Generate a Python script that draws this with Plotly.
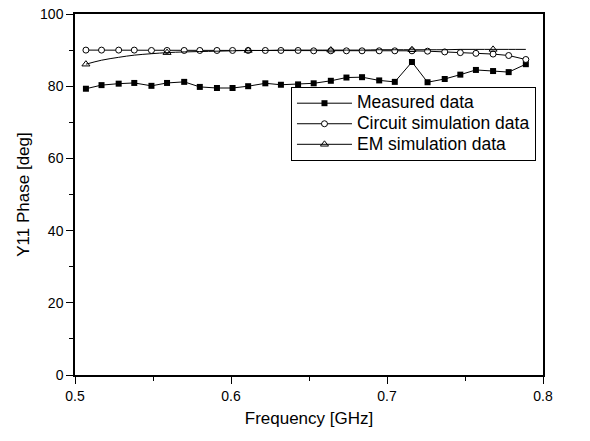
import plotly.graph_objects as go

freq = [0.507, 0.517, 0.528, 0.538, 0.549, 0.559, 0.570, 0.580, 0.591, 0.601,
        0.611, 0.622, 0.632, 0.643, 0.653, 0.664, 0.674, 0.684, 0.695, 0.705,
        0.716, 0.726, 0.737, 0.747, 0.757, 0.768, 0.778, 0.789]

measured = [79.3, 80.3, 80.7, 80.9, 80.1, 80.9, 81.2, 79.8, 79.5, 79.5,
            80.0, 80.8, 80.4, 80.5, 80.8, 81.5, 82.4, 82.5, 81.6, 81.2,
            86.7, 81.1, 82.0, 83.2, 84.5, 84.2, 83.9, 86.1]

circuit = [90.0, 90.0, 90.0, 90.0, 89.9, 89.9, 89.9, 89.9, 89.9, 89.9,
           89.9, 89.9, 89.9, 89.9, 89.8, 89.8, 89.8, 89.8, 89.8, 89.8,
           89.8, 89.7, 89.5, 89.3, 89.1, 88.9, 88.5, 87.4]

em = [86.1, 87.2, 88.0, 88.6, 89.0, 89.3, 89.5, 89.6, 89.7, 89.8,
      89.9, 89.9, 90.0, 90.0, 90.0, 90.0, 90.0, 90.0, 90.1, 90.1,
      90.1, 90.1, 90.1, 90.2, 90.2, 90.2, 90.2, 90.2]
em_marker_idx = [0, 5, 10, 15, 20, 25]

FONT = "Liberation Sans, Arial, sans-serif"


def big(s):
    return '<span style="font-size:17.5px">' + s + '</span>'


fig = go.Figure()

fig.add_trace(go.Scatter(
    x=freq, y=measured, mode="lines+markers", name=big("Measured data"),
    line=dict(color="black", width=1),
    marker=dict(symbol="square", size=6, color="black"),
))
fig.add_trace(go.Scatter(
    x=freq, y=circuit, mode="lines+markers", name=big("Circuit simulation data"),
    line=dict(color="black", width=1),
    marker=dict(symbol="circle", size=6, color="white",
                line=dict(color="black", width=1)),
))
# EM simulation: smooth line, triangles at a subset of points
fig.add_trace(go.Scatter(
    x=freq, y=em, mode="lines", showlegend=False,
    line=dict(color="black", width=1, shape="spline"),
))
fig.add_trace(go.Scatter(
    x=[freq[i] for i in em_marker_idx], y=[em[i] for i in em_marker_idx],
    mode="markers", showlegend=False,
    marker=dict(symbol="triangle-up-open", size=7, color="black",
                line=dict(width=1)),
))
fig.add_trace(go.Scatter(
    x=[None], y=[None], mode="lines+markers", name=big("EM simulation data"),
    line=dict(color="black", width=1),
    marker=dict(symbol="triangle-up-open", size=7, color="black",
                line=dict(width=1)),
))

axis_common = dict(
    showline=True, linecolor="black", linewidth=1.5, mirror=True,
    ticks="outside", ticklen=7, tickwidth=1.2, tickcolor="black",
    showgrid=False, zeroline=False,
    tickfont=dict(family=FONT, size=14, color="black"),
)

fig.update_xaxes(
    range=[0.5, 0.8], tickvals=[0.5, 0.6, 0.7, 0.8],
    ticktext=["0.5", "0.6", "0.7", "0.8"],
    minor=dict(ticks="outside", ticklen=4, tickwidth=1.2, tickcolor="black",
               tickvals=[0.55, 0.65, 0.75]),
    title=dict(text="Frequency [GHz]", font=dict(family=FONT, size=17, color="black"),
               standoff=10),
    **axis_common,
)
fig.update_yaxes(
    range=[0, 100], tickvals=[0, 20, 40, 60, 80, 100],
    minor=dict(ticks="outside", ticklen=4, tickwidth=1.2, tickcolor="black",
               tickvals=[10, 30, 50, 70, 90]),
    title=dict(text="Y11 Phase [deg]", font=dict(family=FONT, size=17, color="black"),
               standoff=6),
    **axis_common,
)

fig.update_layout(
    width=590, height=441,
    margin=dict(l=75, r=47, t=14, b=66, autoexpand=False),
    paper_bgcolor="white", plot_bgcolor="white",
    font=dict(family=FONT, size=16, color="black"),
    legend=dict(
        x=0.4615, y=0.798, xanchor="left", yanchor="top",
        bgcolor="white", bordercolor="black", borderwidth=1,
        font=dict(family=FONT, size=13.5, color="black"),
        itemwidth=55, tracegroupgap=0,
    ),
)

fig.write_html("out.html")
